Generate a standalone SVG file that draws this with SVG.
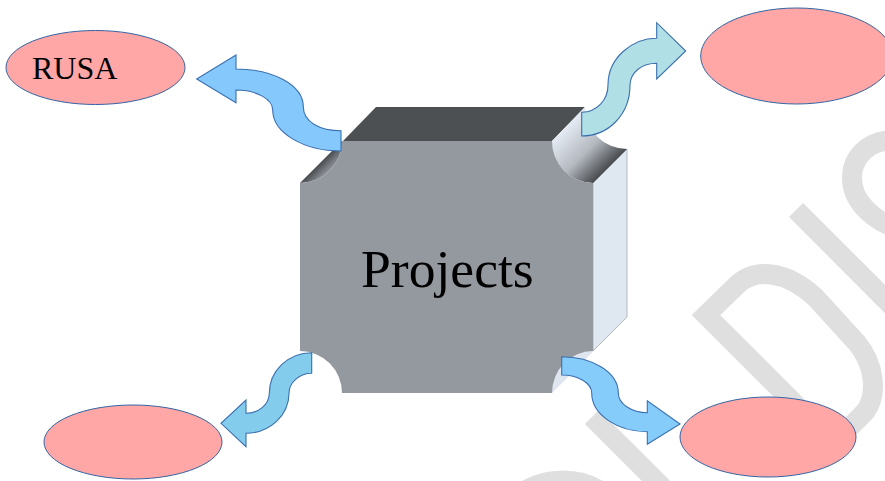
<svg xmlns="http://www.w3.org/2000/svg" width="885" height="481" viewBox="0 0 885 481">
<style>
.wm{fill:none;stroke:#dfdfdf;stroke-width:20}
.oval{fill:#ffa6a6;stroke:#3465a4;stroke-width:1}
.arrow{stroke:#3a6fb0;stroke-width:1.1;stroke-linejoin:miter}
text{font-family:"Liberation Serif","Times New Roman",serif;fill:#000}
</style>
<defs>
<linearGradient id="gTR" gradientUnits="userSpaceOnUse" x1="566" y1="126" x2="608" y2="168">
<stop offset="0" stop-color="#e6ecf5"/><stop offset="0.55" stop-color="#b4b9c0"/><stop offset="1" stop-color="#474a4e"/>
</linearGradient>
<linearGradient id="gTL" gradientUnits="userSpaceOnUse" x1="317" y1="166" x2="326" y2="175">
<stop offset="0" stop-color="#484b4e"/><stop offset="1" stop-color="#94989f"/>
</linearGradient>
</defs>
<g id="watermark">
<path class="wm" d="M520,495 C535,480 580,470 612,500"/>
<path class="wm" d="M592,417 L680,505"/>
<path class="wm" d="M796,210 L900,314"/>
<path class="wm" d="M895,140 C865,140 852,160 852,178 C852,200 870,218 895,228"/>
<path class="wm" d="M835,444 L706,315 L737,285 C755,268 785,270 815,297 L857,343 C875,365 878,395 865,412 L835,442"/>
</g>
<g id="projects">
<path d="M343,141 L376,107 L585,107 L552,141 Z" fill="#4d5052"/>
<path d="M593,183 L627,149 L627,317 L593,351 Z" fill="#dfe7f1" stroke="#b4b8be" stroke-width="1"/>
<path d="M552,141 L585,107 A42,42 0 0 0 627,149 L593,183 A41,42 0 0 1 552,141 Z" fill="url(#gTR)"/>
<path d="M300,183 L334,149 L342,141 A42,42 0 0 1 300,183 Z" fill="url(#gTL)"/>
<path d="M552,393 L593,351 A41,42 0 0 0 552,393 Z" fill="#dfe6f0"/>
<path d="M552,393 L586,359 L593,351 L566,353 L552,372 Z" fill="#dfe6f0"/>
<path d="M342,141 L552,141 A41,42 0 0 0 593,183 L593,351 A41,42 0 0 0 552,393 L342,393 A42,42 0 0 0 300,351 L300,183 A42,42 0 0 0 342,141 Z" fill="#94989f"/>
<text x="361" y="287" font-size="53.6">Projects</text>
</g>
<g id="connectors">
<path class="arrow" fill="#85c9fc" d="M341,130.7 C320,130.7 303.3,122 303.3,106.7 C303.3,85 273,69 236,69 V55 L196.7,79 L236,102.7 V90 C256,90 272.7,99 272.7,110 C272.7,133 304,151 341,151 Z"/>
<path class="arrow" fill="#b0dfe5" d="M581.7,112.3 C597,112 608,100 608,85 C608,58 632,38.3 656.7,38.3 V22.7 L685.7,51 L656.7,79 V63.3 C642,63.3 630.5,72 630,85 C630,115 608,136 581.7,136 Z"/>
<path class="arrow" fill="#84cceb" d="M311.7,352.7 C288,352.7 269.3,371 269.3,393.3 C269.3,405 258,413.3 246,413.3 V400 L221,423.3 L246,446.7 V433.3 C270,433.3 289,415 289,393.3 C289,382 300,373.3 311.7,373.3 Z"/>
<path class="arrow" fill="#85ccfb" d="M561.7,356.7 C592,356.7 618.3,372 618.3,393 C618.3,404 632,412.7 647.3,412.7 V400.7 L680,424 L647.3,444.3 V431.7 C618,431.7 591.7,415 591.7,393 C591.7,383 578,375 561.7,375 Z"/>
</g>
<g id="rusa"><ellipse class="oval" cx="95.5" cy="67.5" rx="89.5" ry="37"/><text x="32" y="79" font-size="32">RUSA</text></g>
<g id="top-right"><ellipse class="oval" cx="796.7" cy="56" rx="96" ry="48"/></g>
<g id="bottom-left"><ellipse class="oval" cx="133" cy="442" rx="89" ry="37"/></g>
<g id="bottom-right"><ellipse class="oval" cx="768" cy="437" rx="88" ry="40"/></g>
</svg>
